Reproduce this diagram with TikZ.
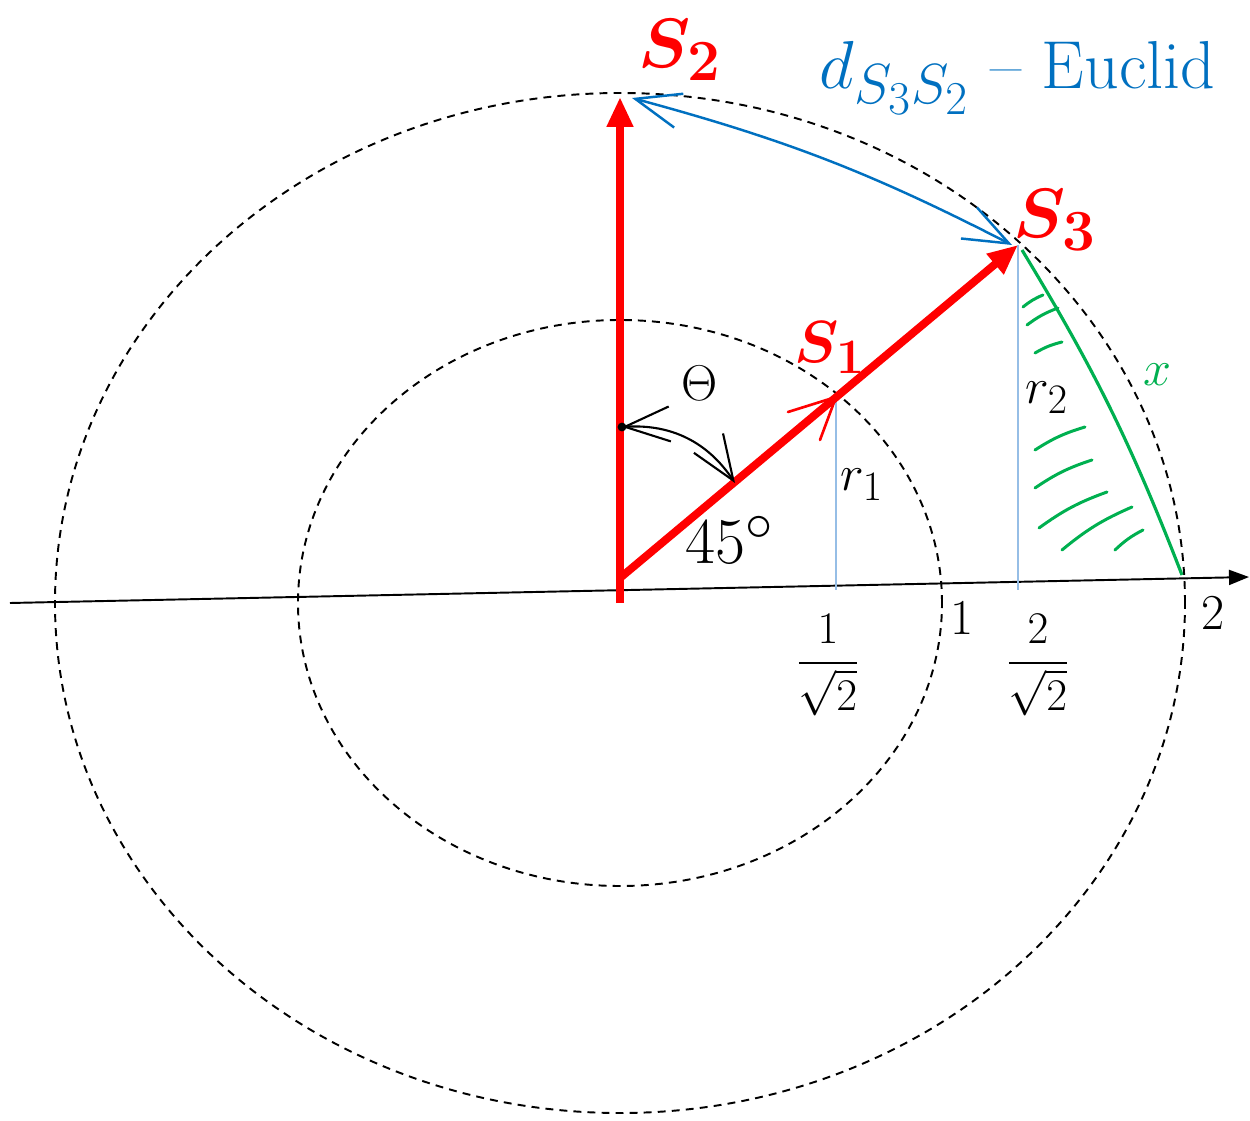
\documentclass[tikz,border=0pt]{standalone}
\usepackage{amsmath}
\usepackage{xcolor}
\usetikzlibrary{arrows.meta}
\definecolor{penred}{RGB}{255,0,0}
\definecolor{penblue}{RGB}{0,112,192}
\definecolor{pengreen}{RGB}{0,176,80}
\definecolor{guideblue}{RGB}{150,190,230}

\begin{document}
\begin{tikzpicture}[
    vec/.style={penred, line width=4.5pt, -{Triangle[length=6mm,width=5mm]}},
    ring/.style={dash pattern=on 4.5pt off 3.5pt, line width=1.1pt},
    guide/.style={guideblue, line width=0.9pt},
    hatch/.style={pengreen, line width=1.7pt, line cap=round},
    dbl/.style={{Straight Barb[length=9mm,width=7mm]}-{Straight Barb[length=9mm,width=7mm]}},
    lbl/.style={font=\Huge, scale=1.15},
    ptlbl/.style={font=\Huge\boldmath, text=penred, scale=1.6}]
  \useasboundingbox (-12.4,-10.34) rectangle (12.6,12.06);
  % points
  \coordinate (O) at (0,0);
  \coordinate (Ob) at (0,0.5);
  \coordinate (S1) at (4.32,4.12);
  \coordinate (S2) at (0,10.12);
  \coordinate (S3) at (7.96,7.16);
  \coordinate (F1) at (4.32,0.26);
  \coordinate (F2) at (7.96,0.26);
  \coordinate (D2) at (0.24,10.1);
  \coordinate (D3) at (7.84,7.16);
  \coordinate (G3) at (8.04,7.06);
  \coordinate (G0) at (11.24,0.56);
  \coordinate (V) at (0.04,3.52);
  \coordinate (M) at (2.3,2.4);
  \coordinate (XL) at (-12.2,0);
  \coordinate (XR) at (12.58,0.52);
  % circles
  \draw[ring] (O) ellipse [x radius=11.3, y radius=10.2];
  \draw[ring] (O) ellipse [x radius=6.44, y radius=5.66];
  % axis
  \draw[line width=1.1pt, -{Triangle[length=4mm,width=3mm]}] (XL) -- (XR);
  % projections
  \draw[guide] (S1) -- (F1);
  \draw[guide] (S3) -- (F2);
  % hatched region
  \foreach \a/\b/\c/\d in {8.06/5.92/8.46/6.16, 8.14/5.56/8.76/5.9, 8.3/5.0/8.84/5.22,
      8.3/3.06/9.3/3.52, 8.3/2.3/9.44/2.86, 8.38/1.5/9.74/2.22,
      8.84/1.06/10.24/1.92, 9.9/1.06/10.46/1.46}
    \draw[hatch] (\a,\b) to[bend left=8] (\c,\d);
  \draw[pengreen, line width=1.8pt] (G3) to[bend left=5] (G0);
  % vectors
  \draw[vec] (O) -- (S2);
  \draw[vec] (Ob) -- (S3);
  \draw[penred, line width=1.5pt, line cap=round] (3.36,3.82) -- (S1) -- (4.0,3.26);
  % distance
  \draw[penblue, line width=1.4pt, dbl] (D2) to[bend left=6] (D3);
  % angle
  \draw[line width=1.2pt, dbl] (V) to[bend left=30] (M);
  \fill (V) circle (2.5pt);
  % labels
  \node[ptlbl] (s2) at (1.2,11.06) {$S_2$};
  \node[ptlbl] (s3) at (8.7,7.66) {$S_3$};
  \node[ptlbl, scale=0.85] (s1) at (4.2,5.1) {$S_1$};
  \node[lbl, text=penblue, anchor=west, scale=1.35] (dist) at (3.8,10.5) {$d_{S_3S_2}$ -- Euclid};
  \node[lbl] (theta) at (1.6,4.4) {$\Theta$};
  \node[lbl, scale=1.3] (ang) at (2.2,1.26) {$45^\circ$};
  \node[lbl] (r1) at (4.84,2.36) {$r_1$};
  \node[lbl] (r2) at (8.54,4.1) {$r_2$};
  \node[lbl, text=pengreen] (x) at (10.74,4.56) {$x$};
  \node[lbl, scale=0.9, inner sep=1pt] (t1) at (4.16,-1.25) {$\dfrac{1}{\sqrt{2}}$};
  \node[lbl] (t2) at (6.84,-0.3) {$1$};
  \node[lbl, scale=0.9, inner sep=1pt] (t3) at (8.36,-1.25) {$\dfrac{2}{\sqrt{2}}$};
  \node[lbl] (t4) at (11.86,-0.2) {$2$};
\end{tikzpicture}
\end{document}
